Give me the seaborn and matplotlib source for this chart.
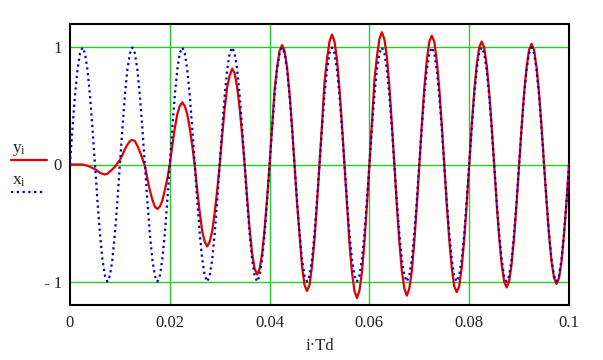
import numpy as np
import pandas as pd
import seaborn as sns
import matplotlib.pyplot as plt
from matplotlib.lines import Line2D

# sample period, samples i = 0..200
Td = 0.0005

# input signal x_i
x_vals = [
    0.00, 0.31, 0.59, 0.81, 0.95, 1.00, 0.95, 0.81, 0.59, 0.31, 0.00, -0.31, -0.59, -0.81, -0.95, -1.00, -0.95, -0.81, -0.59, -0.31,
    0.00, 0.31, 0.59, 0.81, 0.95, 1.00, 0.95, 0.81, 0.59, 0.31, 0.00, -0.31, -0.59, -0.81, -0.95, -1.00, -0.95, -0.81, -0.59, -0.31,
    0.00, 0.31, 0.59, 0.81, 0.95, 1.00, 0.95, 0.81, 0.59, 0.31, 0.00, -0.31, -0.59, -0.81, -0.95, -1.00, -0.95, -0.81, -0.59, -0.31,
    0.00, 0.31, 0.59, 0.81, 0.95, 1.00, 0.95, 0.81, 0.59, 0.31, 0.00, -0.31, -0.59, -0.81, -0.95, -1.00, -0.95, -0.81, -0.59, -0.31,
    0.00, 0.31, 0.59, 0.81, 0.95, 1.00, 0.95, 0.81, 0.59, 0.31, 0.00, -0.31, -0.59, -0.81, -0.95, -1.00, -0.95, -0.81, -0.59, -0.31,
    0.00, 0.31, 0.59, 0.81, 0.95, 1.00, 0.95, 0.81, 0.59, 0.31, 0.00, -0.31, -0.59, -0.81, -0.95, -1.00, -0.95, -0.81, -0.59, -0.31,
    0.00, 0.31, 0.59, 0.81, 0.95, 1.00, 0.95, 0.81, 0.59, 0.31, 0.00, -0.31, -0.59, -0.81, -0.95, -1.00, -0.95, -0.81, -0.59, -0.31,
    0.00, 0.31, 0.59, 0.81, 0.95, 1.00, 0.95, 0.81, 0.59, 0.31, 0.00, -0.31, -0.59, -0.81, -0.95, -1.00, -0.95, -0.81, -0.59, -0.31,
    0.00, 0.31, 0.59, 0.81, 0.95, 1.00, 0.95, 0.81, 0.59, 0.31, 0.00, -0.31, -0.59, -0.81, -0.95, -1.00, -0.95, -0.81, -0.59, -0.31,
    0.00, 0.31, 0.59, 0.81, 0.95, 1.00, 0.95, 0.81, 0.59, 0.31, 0.00, -0.31, -0.59, -0.81, -0.95, -1.00, -0.95, -0.81, -0.59, -0.31,
    0.00,
]

# output signal y_i
y_vals = [
    0.00, 0.00, 0.00, 0.00, 0.00, 0.00, -0.005, -0.01, -0.02, -0.03,
    -0.04, -0.055, -0.07, -0.08, -0.085, -0.08, -0.06, -0.04, -0.02, 0.01,
    0.04, 0.08, 0.13, 0.17, 0.20, 0.21, 0.20, 0.16, 0.11, 0.05,
    -0.01, -0.12, -0.22, -0.30, -0.36, -0.38, -0.36, -0.31, -0.22, -0.12,
    0.00, 0.16, 0.31, 0.43, 0.50, 0.53, 0.50, 0.43, 0.31, 0.16,
    -0.01, -0.22, -0.41, -0.57, -0.66, -0.70, -0.66, -0.57, -0.41, -0.22,
    0.00, 0.25, 0.48, 0.66, 0.76, 0.82, 0.78, 0.66, 0.48, 0.25,
    0.00, -0.29, -0.55, -0.76, -0.89, -0.94, -0.89, -0.76, -0.55, -0.29,
    0.00, 0.32, 0.64, 0.83, 0.97, 1.02, 0.97, 0.83, 0.60, 0.32,
    0.00, -0.33, -0.60, -0.87, -1.03, -1.08, -1.03, -0.87, -0.64, -0.33,
    0.00, 0.34, 0.70, 0.90, 1.05, 1.11, 1.05, 0.90, 0.65, 0.34,
    0.00, -0.35, -0.67, -0.92, -1.08, -1.14, -1.08, -0.92, -0.67, -0.35,
    0.00, 0.35, 0.72, 0.92, 1.07, 1.13, 1.07, 0.92, 0.67, 0.35,
    0.00, -0.35, -0.66, -0.91, -1.06, -1.12, -1.06, -0.91, -0.66, -0.35,
    0.00, 0.34, 0.65, 0.89, 1.05, 1.10, 1.05, 0.89, 0.65, 0.34,
    0.00, -0.34, -0.64, -0.88, -1.04, -1.09, -1.04, -0.88, -0.64, -0.34,
    0.00, 0.33, 0.62, 0.85, 1.00, 1.05, 1.00, 0.85, 0.62, 0.33,
    0.00, -0.33, -0.62, -0.85, -1.00, -1.05, -1.00, -0.85, -0.62, -0.33,
    0.00, 0.32, 0.61, 0.83, 0.98, 1.03, 0.98, 0.83, 0.61, 0.32,
    0.00, -0.32, -0.60, -0.83, -0.97, -1.02, -0.97, -0.83, -0.60, -0.32,
    0.00,
]

x_ticks = [0, 0.02, 0.04, 0.06, 0.08, 0.1]
x_ticklabels = ['0', '0.02', '0.04', '0.06', '0.08', '0.1']
y_ticks = [-1, 0, 1]
y_ticklabels = ['- 1', '0', '1']

df = pd.DataFrame({'t': np.arange(len(y_vals)) * Td, 'y': y_vals, 'x': x_vals})

sns.set_style('white')
plt.rcParams['font.family'] = ['Liberation Serif', 'DejaVu Serif']

RED = '#e00000'
BLUE = '#0000c8'
GREEN = '#22cc22'

fig = plt.figure(figsize=(6.03, 3.6), dpi=100)
ax = fig.add_axes([70 / 603, 1 - 305 / 360, 499 / 603, 281 / 360])

# grid
for gx in x_ticks[1:-1]:
    ax.axvline(gx, color=GREEN, lw=1, zorder=1)
for gy in y_ticks:
    ax.axhline(gy, color=GREEN, lw=1, zorder=1)

sns.lineplot(data=df, x='t', y='y', color=RED, lw=1.6, ax=ax, zorder=3)
sns.lineplot(data=df, x='t', y='x', color=BLUE, lw=1.6, ls=(0, (1, 1.6)), ax=ax, zorder=4)

ax.set_xlim(0, 0.1)
ax.set_ylim(-1.2, 1.2)
ax.set_xticks(x_ticks)
ax.set_xticklabels(x_ticklabels)
ax.set_yticks(y_ticks)
ax.set_yticklabels(y_ticklabels)
ax.tick_params(axis='both', length=0, labelsize=12, colors='#222222')
ax.tick_params(axis='x', pad=7)
ax.tick_params(axis='y', pad=6)
ax.set_xlabel('i·Td', fontsize=12, labelpad=5)
ax.set_ylabel('')
for s in ax.spines.values():
    s.set_color('black')
    s.set_linewidth(1.5)

# legend on the left like Mathcad
fig.text(12 / 603, 1 - 152 / 360, '$\\mathregular{y_i}$', fontsize=12.5, color='#222222')
fig.add_artist(Line2D([11 / 603, 47 / 603], [1 - 160 / 360, 1 - 160 / 360], color=RED, lw=1.6))
fig.text(12 / 603, 1 - 185 / 360, '$\\mathregular{x_i}$', fontsize=12.5, color='#222222')
fig.add_artist(Line2D([11 / 603, 45 / 603], [1 - 192 / 360, 1 - 192 / 360], color=BLUE, lw=1.6, ls=(0, (1, 1.6))))

plt.savefig('out.png', dpi=100)
